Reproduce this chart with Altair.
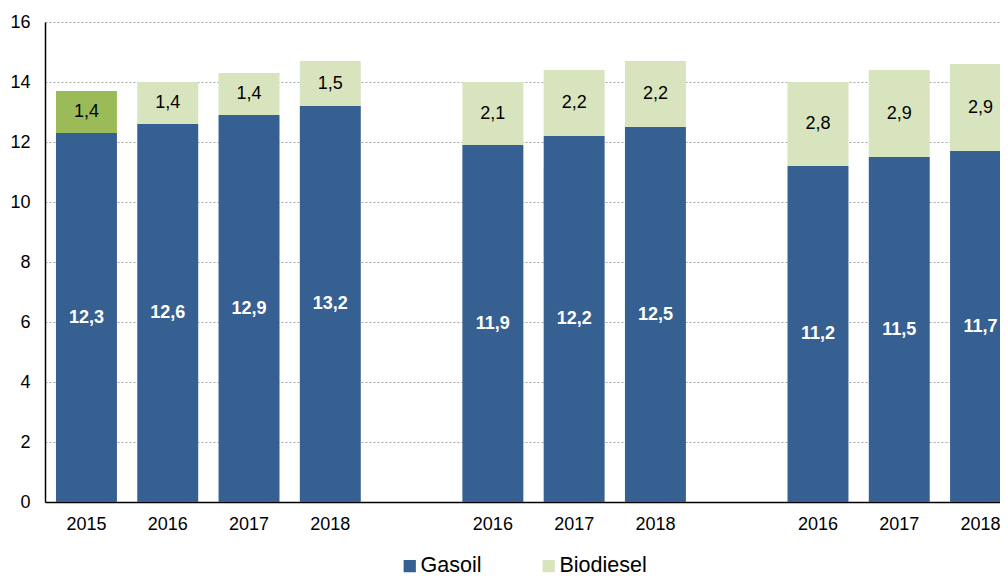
import altair as alt
import pandas as pd

# slot layout (empty strings are gaps between groups)
slot_years = ["2015", "2016", "2017", "2018", "", "2016", "2017", "2018", "", "2016", "2017", "2018"]
bar_slots = [0, 1, 2, 3, 5, 6, 7, 9, 10, 11]
gasoil = [12.3, 12.6, 12.9, 13.2, 11.9, 12.2, 12.5, 11.2, 11.5, 11.7]
biodiesel = [1.4, 1.4, 1.4, 1.5, 2.1, 2.2, 2.2, 2.8, 2.9, 2.9]

rows = []
for i, s in enumerate(bar_slots):
    rows.append({"slot": s, "series": "Gasoil", "value": gasoil[i], "ord": 0})
    rows.append({"slot": s, "series": "Biodiesel 2015" if s == 0 else "Biodiesel",
                 "value": biodiesel[i], "ord": 1})
df = pd.DataFrame(rows)

font = "Liberation Sans"
label_expr = "[" + ",".join("'%s'" % y for y in slot_years) + "][datum.value]"

base = alt.Chart(df).transform_stack(
    stack="value", groupby=["slot"], sort=[alt.SortField("ord")], as_=["v0", "v1"]
).transform_calculate(
    mid="(datum.v0 + datum.v1) / 2",
    lab="replace(format(datum.value, '.1f'), '.', ',')",
)

x = alt.X("slot:O", scale=alt.Scale(domain=list(range(12)), range=[0, 977],
                                     paddingInner=0.25, paddingOuter=0.135),
          axis=alt.Axis(title=None, labelExpr=label_expr, labelAngle=0, ticks=False,
                        domainColor="black", domainWidth=1.5, labelFontSize=18,
                        labelPadding=13, labelColor="black", labelFont=font))

bars = base.mark_bar().encode(
    x=x,
    y=alt.Y("v1:Q", scale=alt.Scale(domain=[0, 16]),
            axis=alt.Axis(title=None, values=list(range(0, 17, 2)), ticks=False,
                          domainColor="black", domainWidth=1.5, grid=True,
                          gridDash=[2, 2], gridColor="#A6A6A6", gridWidth=1.2,
                          labelFontSize=18, labelPadding=15, labelColor="black",
                          labelFont=font)),
    y2="v0:Q",
    color=alt.Color("series:N",
                    scale=alt.Scale(domain=["Gasoil", "Biodiesel", "Biodiesel 2015"],
                                    range=["#376092", "#D7E4BD", "#9BBB59"]),
                    legend=alt.Legend(title=None, values=["Gasoil", "Biodiesel"],
                                      orient="none", direction="horizontal",
                                      legendX=354, legendY=533, symbolType="square",
                                      symbolSize=150, symbolStrokeWidth=0,
                                      labelFontSize=21.5, labelFont=font,
                                      labelColor="black", columnPadding=56,
                                      symbolOffset=0, labelOffset=0)),
)

text_g = base.transform_filter("datum.series == 'Gasoil'").mark_text(
    color="white", fontWeight="bold", fontSize=18, font=font
).encode(x=alt.X("slot:O"), y=alt.Y("mid:Q"), text="lab:N")

text_b = base.transform_filter("datum.series != 'Gasoil'").mark_text(
    color="black", fontSize=18, font=font
).encode(x=alt.X("slot:O"), y=alt.Y("mid:Q"), text="lab:N")

chart = alt.layer(bars, text_g, text_b).properties(
    width=955, height=480,
    autosize=alt.AutoSizeParams(type="none"),
    padding={"left": 37, "top": 14, "right": 0, "bottom": 74},
).configure_view(stroke=None)

chart.save("out.html", embed_options={"renderer": "svg", "actions": False})
